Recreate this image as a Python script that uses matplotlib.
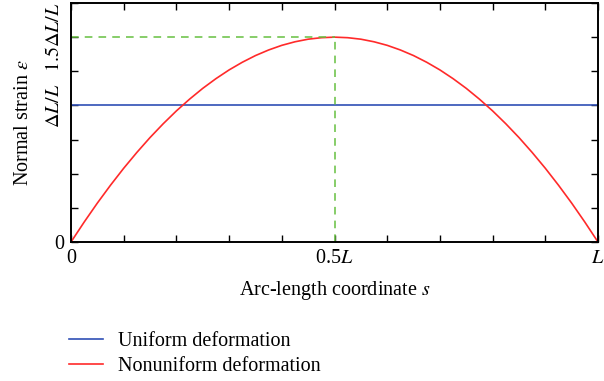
import numpy as np
import matplotlib.pyplot as plt
from matplotlib.ticker import MultipleLocator

plt.rcParams['font.family'] = ['Liberation Serif', 'DejaVu Serif']
plt.rcParams['mathtext.fontset'] = 'stix'

# arc-length coordinate (fraction of L) and strain values (in units of dL/L)
s = [0.0, 0.025, 0.05, 0.075, 0.1, 0.125, 0.15, 0.175, 0.2, 0.225, 0.25,
     0.275, 0.3, 0.325, 0.35, 0.375, 0.4, 0.425, 0.45, 0.475, 0.5,
     0.525, 0.55, 0.575, 0.6, 0.625, 0.65, 0.675, 0.7, 0.725, 0.75,
     0.775, 0.8, 0.825, 0.85, 0.875, 0.9, 0.925, 0.95, 0.975, 1.0]
strain_nonuniform = [0.0, 0.146, 0.285, 0.416, 0.54, 0.656, 0.765, 0.866, 0.96, 1.046, 1.125,
                     1.196, 1.26, 1.316, 1.365, 1.406, 1.44, 1.466, 1.485, 1.496, 1.5,
                     1.496, 1.485, 1.466, 1.44, 1.406, 1.365, 1.316, 1.26, 1.196, 1.125,
                     1.046, 0.96, 0.866, 0.765, 0.656, 0.54, 0.416, 0.285, 0.146, 0.0]
strain_uniform = 1.0
peak_s = 0.5
peak_strain = 1.5

xtick_pos = [0, 0.5, 1.0]
xtick_labels = ['0', '0.5$L$', '$L$']
ytick_pos = [0, 1.0, 1.5]
ytick_labels = ['0', r'$\Delta L/L$', r'$1.5\Delta L/L$']

fs = 14.5

fig = plt.figure(figsize=(6.04, 3.81), dpi=100)
ax = fig.add_axes([71 / 604, 1 - 242 / 381, 527 / 604, 239 / 381])

ax.axhline(strain_uniform, color='#2f4fb5', lw=1.2, label='Uniform deformation')
ax.plot(s, strain_nonuniform, color='#ff2a2a', lw=1.2, label='Nonuniform deformation')

# guide lines to the peak
ax.plot([0, peak_s], [peak_strain, peak_strain], color='#66c040', lw=1.1, ls=(0, (5, 4)))
ax.plot([peak_s, peak_s], [0, peak_strain], color='#66c040', lw=1.1, ls=(0, (5, 4)))

ax.set_xlim(0, 1)
ax.set_ylim(0, 1.75)

ax.set_xticks(xtick_pos)
ax.set_xticklabels(xtick_labels)
ax.set_yticks(ytick_pos)
ax.set_yticklabels(ytick_labels)
for lbl in ax.get_yticklabels()[1:]:
    lbl.set_rotation(90)
    lbl.set_va('center')
ax.xaxis.set_minor_locator(MultipleLocator(0.1))
ax.yaxis.set_minor_locator(MultipleLocator(0.25))
ax.tick_params(which='both', direction='in', top=True, right=True,
               length=5, width=1.0, labelsize=fs, pad=5)
for sp in ax.spines.values():
    sp.set_linewidth(1.4)

ax.set_xlabel('Arc-length coordinate $s$', fontsize=fs, labelpad=8)
ax.set_ylabel(r'Normal strain $\varepsilon$', fontsize=fs, labelpad=9)

fig.legend(loc='upper left', bbox_to_anchor=(51 / 604, 1 - 314 / 381),
           frameon=False, fontsize=fs, handlelength=1.7, handletextpad=0.75,
           labelspacing=0.3)

fig.savefig('out.png', dpi=100)
